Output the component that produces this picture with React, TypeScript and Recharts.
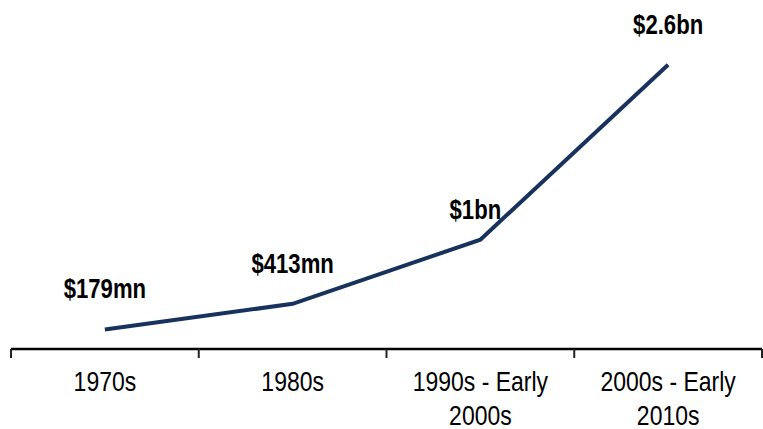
import React from 'react';
import { LineChart, Line, XAxis, YAxis, LabelList } from 'recharts';

const categories = ['1970s', '1980s', '1990s - Early 2000s', '2000s - Early 2010s'];
const valuesMn = [179, 413, 1000, 2600];
const valueLabels = ['$179mn', '$413mn', '$1bn', '$2.6bn'];
const boundaryTicks = [0, 1, 2, 3, 4];

const data = categories.map((c, i) => ({ category: c, value: valuesMn[i], label: valueLabels[i], slot: i }));

const FONT = "'Liberation Sans', Arial, sans-serif";
const NARROW = 0.82;

const CategoryTick = (props: any) => {
  const { x, y, payload } = props;
  const words = String(payload.value).split(' ');
  const lines = words.length > 1 ? [words.slice(0, -1).join(' '), words[words.length - 1]] : words;
  return (
    <g transform={`translate(${x},${y}) scale(${NARROW},1)`}>
      {lines.map((ln, i) => (
        <text
          key={i}
          x={0}
          y={33 + i * 34}
          textAnchor="middle"
          fontFamily={FONT}
          fontSize={28}
          fill="#000"
        >
          {ln}
        </text>
      ))}
    </g>
  );
};

const ValueLabel = (props: any) => {
  const { x, y, value, index } = props;
  const dx = index === 2 ? -5 : 0;
  const dy = index === 2 ? -21 : -31;
  return (
    <g transform={`translate(${x + dx},${y + dy}) scale(${NARROW},1)`}>
      <text x={0} y={0} textAnchor="middle" fontFamily={FONT} fontSize={27} fontWeight="bold" fill="#000">
        {value}
      </text>
    </g>
  );
};

export default function App() {
  return (
    <div style={{ position: 'absolute', left: 0, top: 0, background: '#fff' }}>
      <LineChart width={763} height={429} data={data} margin={{ top: 21, right: 1, bottom: 0, left: 11 }}>
        <XAxis
          xAxisId="a_edge"
          type="number"
          dataKey="slot"
          domain={[0, 4]}
          ticks={boundaryTicks}
          allowDataOverflow
          height={1}
          axisLine={{ stroke: '#000', strokeWidth: 2.5 }}
          tickLine={{ stroke: '#222', strokeWidth: 2 }}
          tickSize={9}
          tick={() => null}
        />
        <XAxis
          xAxisId="z_cat"
          dataKey="category"
          scale="band"
          height={79}
          axisLine={false}
          tickLine={false}
          interval={0}
          tick={<CategoryTick />}
        />
        <YAxis hide domain={[0, 3000]} />
        <Line
          xAxisId="z_cat"
          type="linear"
          dataKey="value"
          stroke="#17325c"
          strokeWidth={4}
          dot={false}
          isAnimationActive={false}
        >
          <LabelList dataKey="label" content={<ValueLabel />} />
        </Line>
      </LineChart>
    </div>
  );
}
